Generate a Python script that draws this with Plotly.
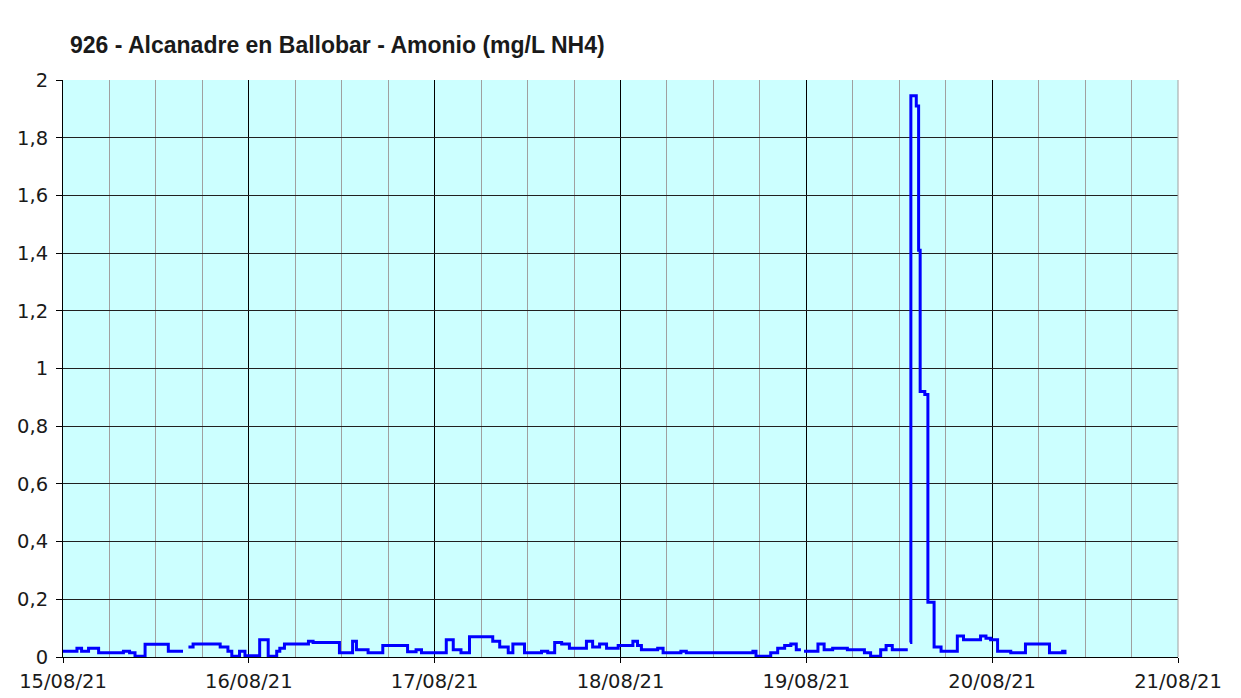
import pandas as pd
import plotly.graph_objects as go

TITLE = "926 - Alcanadre en Ballobar - Amonio (mg/L NH4)"
START = "2021-08-15 00:00"

# hours since 15/08/21 00:00 at which the reading changes, and the reading (mg/L)
hours = [
    0.0, 1.8, 2.4, 3.3, 4.6, 7.8, 8.6, 9.3, 10.6, 13.6, 15.5, 15.6,
    16.2, 16.8, 20.3, 21.3, 21.8, 22.8, 23.5, 25.4, 26.5, 27.6, 28.0, 28.6,
    31.7, 32.3, 35.7, 37.4, 37.9, 39.4, 41.3, 44.5, 45.6, 46.3, 49.5, 50.4,
    51.4, 52.5, 55.5, 56.4, 57.5, 58.1, 59.6, 61.8, 62.6, 63.5, 64.4, 65.4,
    67.6, 68.4, 69.3, 70.2, 71.7, 73.6, 74.2, 74.7, 76.8, 77.5, 79.8, 80.5,
    89.1, 89.5, 91.4, 92.3, 93.2, 94.0, 94.7, 95.3, 95.4, 95.7, 97.5, 98.3,
    99.4, 101.3, 103.5, 104.3, 105.6, 106.3, 107.1, 109.1, 109.2, 109.4, 109.5, 110.2,
    110.5, 110.7, 111.3, 111.7, 112.5, 113.4, 115.5, 116.3, 118.5, 119.2, 119.8, 120.7,
    122.4, 124.3, 127.4, 129.1, 129.4, 129.6,
]
amonio = [
    0.02, 0.03, 0.02, 0.03, 0.015, 0.02, 0.015, 0.003, 0.044, 0.02, 0.02, None,
    0.035, 0.045, 0.035, 0.02, 0.003, 0.02, 0.004, 0.06, 0.003, 0.02, 0.03, 0.045,
    0.055, 0.05, 0.015, 0.055, 0.025, 0.015, 0.04, 0.018, 0.025, 0.015, 0.06, 0.025,
    0.015, 0.07, 0.055, 0.035, 0.015, 0.045, 0.015, 0.02, 0.015, 0.05, 0.045, 0.03,
    0.055, 0.035, 0.045, 0.03, 0.04, 0.055, 0.04, 0.025, 0.03, 0.015, 0.02, 0.015,
    0.02, 0.003, 0.015, 0.03, 0.04, 0.045, 0.025, 0.025, None, 0.02, 0.045, 0.025,
    0.03, 0.025, 0.015, 0.003, 0.025, 0.04, 0.025, 0.025, None, 0.05, 1.945, 1.91,
    1.41, 0.92, 0.91, 0.19, 0.035, 0.02, 0.073, 0.06, 0.073, 0.065, 0.06, 0.02,
    0.015, 0.045, 0.015, 0.02, 0.015, 0.015,
]

X_RANGE = ["2021-08-15", "2021-08-21"]
Y_RANGE = [0, 2]

times = pd.Timestamp(START) + pd.to_timedelta(hours, unit="h")

fig = go.Figure()
fig.add_trace(go.Scatter(
    x=times, y=amonio, mode="lines", line_shape="hv",
    line=dict(color="#0000FF", width=3), connectgaps=False,
    hoverinfo="x+y",
))

tick_font = dict(family="DejaVu Sans", size=19.5, color="#1a1a1a")

W, H = 1225, 688  # page body has an 8px margin

fig.update_layout(
    width=W, height=H,
    margin=dict(l=55, r=55, t=72, b=39, autoexpand=False),
    paper_bgcolor="white", plot_bgcolor="#CCFFFF",
    separators=", ",
    showlegend=False,
    title=dict(
        text="<b>" + TITLE + "</b>",
        font=dict(family="Liberation Sans", size=23, color="#1a1a1a"),
        x=62 / W, xref="container", xanchor="left",
        y=1 - 37 / H, yref="container", yanchor="middle",
    ),
    xaxis=dict(
        type="date", range=X_RANGE, dtick=86400000, tick0="2021-08-15",
        tickformat="%d/%m/%y", tickfont=tick_font, ticklabelstandoff=2,
        showgrid=True, gridcolor="#000000", gridwidth=1,
        showline=True, linecolor="#000000", linewidth=1,
        ticks="outside", ticklen=5, tickcolor="#000000",
        minor=dict(dtick=6 * 3600 * 1000, showgrid=True,
                   gridcolor="rgb(160,160,160)", gridwidth=1),
        zeroline=False, fixedrange=True,
    ),
    yaxis=dict(
        range=Y_RANGE, dtick=0.2, tick0=0, tickfont=tick_font, ticklabelstandoff=4,
        showgrid=True, gridcolor="#202020", gridwidth=1,
        showline=True, linecolor="#000000", linewidth=1,
        ticks="outside", ticklen=6, tickcolor="#000000",
        zeroline=False, fixedrange=True,
    ),
    shapes=[dict(type="line", xref="paper", yref="paper", x0=1, x1=1, y0=0, y1=1,
                 line=dict(color="rgb(160,160,160)", width=1))],
)

fig.write_html("out.html")
